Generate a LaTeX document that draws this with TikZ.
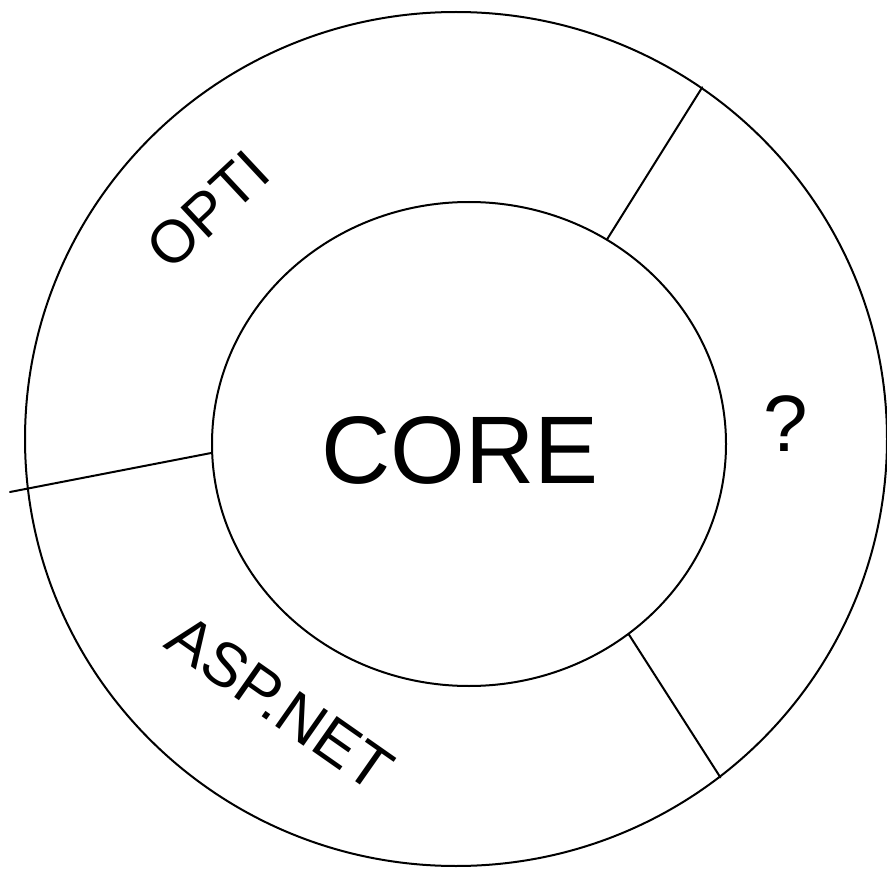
\documentclass[tikz,border=0pt]{standalone}
\usepackage{fontspec}
\setmainfont{Liberation Sans}
\usetikzlibrary{positioning, shapes.geometric}
\tikzset{
  ring/.style={
    draw=black,
    line width=2pt,
    ellipse,
    inner sep=0pt
  },
  divider/.style={
    draw=black,
    line width=2pt,
    line cap=round
  },
  layer text/.style={
    inner sep=0pt,
    font=\fontsize{60}{60}\selectfont
  }
}

\begin{document}
\begin{tikzpicture}[x=1pt, y=-1pt]
  \useasboundingbox (0,0) rectangle (887,869);
  % rings
  \node[ring, minimum width=862, minimum height=854] (outer) at (456,439) {};
  \node[ring, minimum width=514, minimum height=484] (core) at (469,444) {};
  \node[layer text, font=\fontsize{96}{96}\selectfont] (coretext) at (460,450) {CORE};
  % layer labels
  \node[layer text, rotate=43] (opti) at (208,210) {OPTI};
  \node[layer text, font=\fontsize{80}{80}\selectfont] (unknown) at (786,424) {?};
  \node[layer text, font=\fontsize{62}{62}\selectfont, rotate=-35] (aspnet) at (280,703) {ASP.NET};
  % dividers
  \coordinate (westend) at (10,492);
  \draw[divider] (core.56) -- (outer.55);
  \draw[divider] (core.182) -- (westend);
  \draw[divider] (core.-50) -- (outer.-52);
\end{tikzpicture}
\end{document}
